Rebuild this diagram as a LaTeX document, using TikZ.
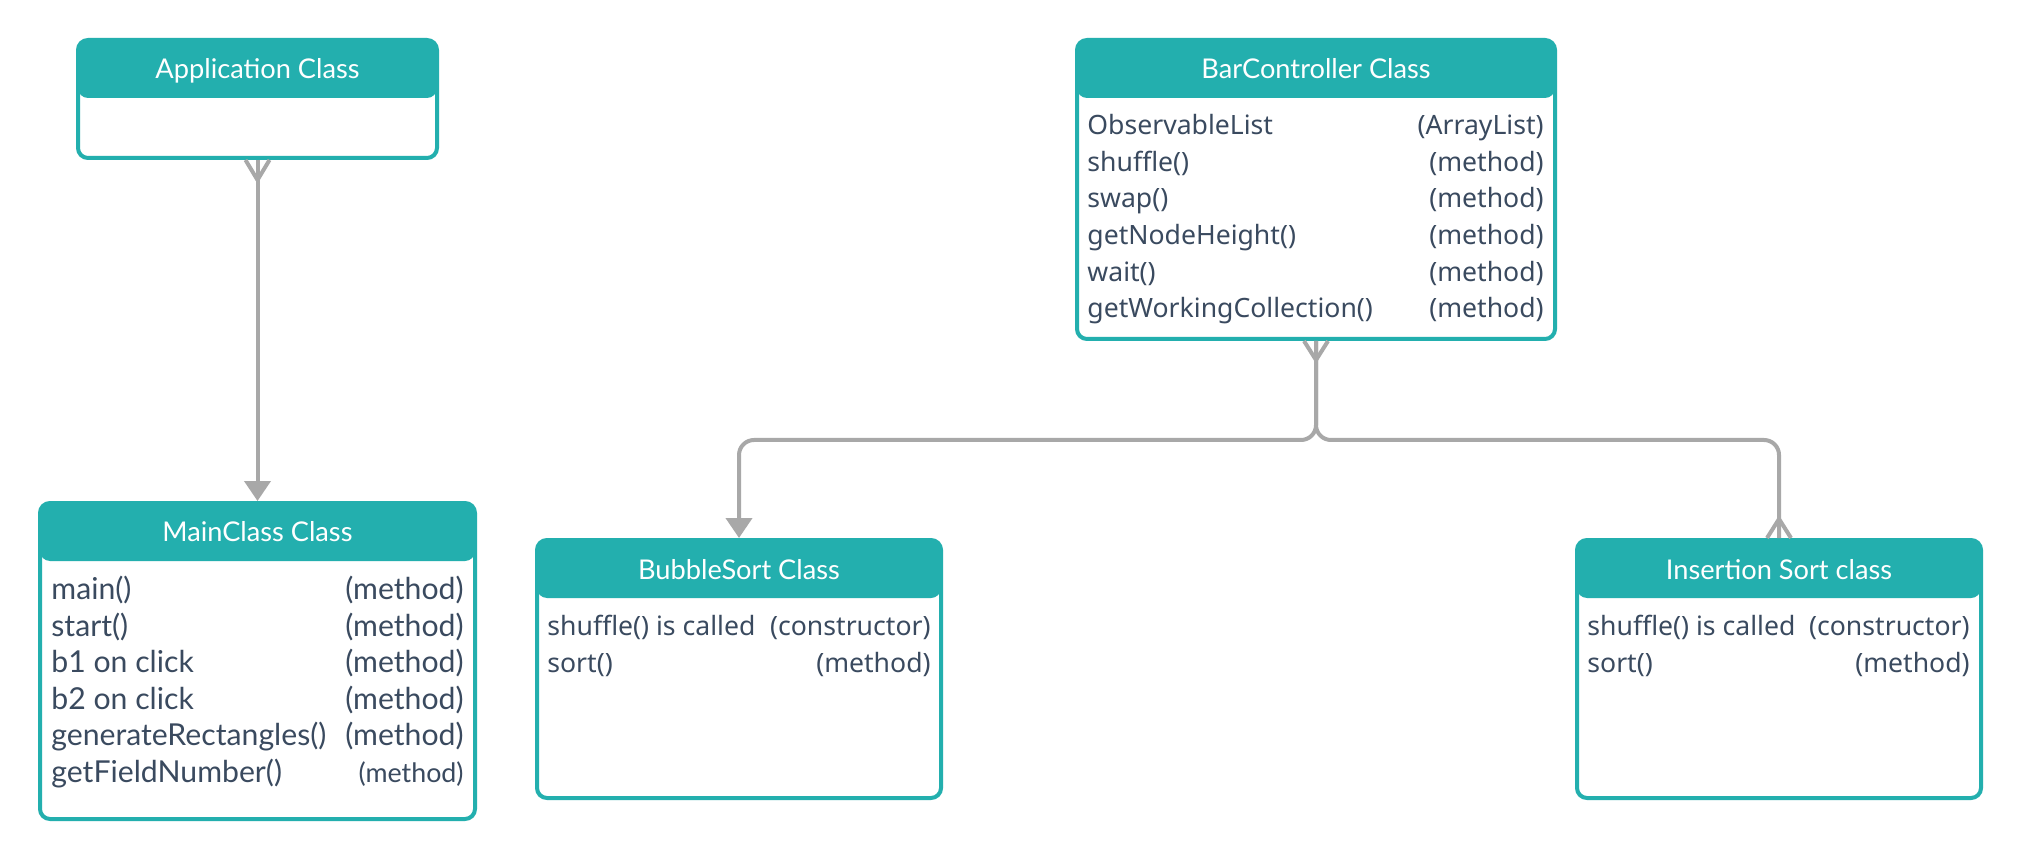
\documentclass[tikz,border=0pt]{standalone}
\usepackage{fontspec}
\setmainfont{Lato}
\newfontfamily\notofont{Noto Sans}
\usetikzlibrary{arrows.meta}
\definecolor{teal1}{HTML}{23AFAE}
\definecolor{txt}{HTML}{3A4A5F}
\definecolor{conn}{HTML}{A8A8A8}
\tikzset{
 classbox/.style={draw=teal1, line width=2pt, rounded corners=5pt, fill=white, inner sep=0pt,
   path picture={\fill[teal1] (path picture bounding box.north west) rectangle ([yshift=-29pt]path picture bounding box.north east);}},
 title/.style={font=\fontsize{13.6}{16}\selectfont, text=white, anchor=base, inner sep=0pt},
 lato/.style={font=\fontsize{15.1}{17}\selectfont, text=txt, inner sep=0pt},
 noto/.style={font=\notofont\fontsize{13.3}{16}\selectfont, text=txt, inner sep=0pt},
 lw/.style={anchor=base west},
 le/.style={anchor=base east},
 connector/.style={draw=conn, line width=2pt},
 tri/.style={-{Triangle[width=13pt,length=10pt]}}
}
\begin{document}
\begin{tikzpicture}[x=0.5pt,y=-0.5pt]
\useasboundingbox[fill=white] (0,0) rectangle (2021,860);
% boxes
\node[classbox, minimum width=179.5pt, minimum height=59pt] (app) at (257.5,99) {};
\node[classbox, minimum width=217.5pt, minimum height=158pt] (main) at (257.5,661) {};
\node[classbox, minimum width=239pt, minimum height=149.5pt] (bar) at (1316,189.5) {};
\node[classbox, minimum width=202pt, minimum height=129pt] (bub) at (739,669) {};
\node[classbox, minimum width=202pt, minimum height=129pt] (ins) at (1779,669) {};
% titles
\node[title] (appt) at (257.5,79) {Application Class};
\node[title] (maint) at (257.5,541) {MainClass Class};
\node[title] (bart) at (1316,79) {BarController Class};
\node[title] (bubt) at (739,579) {BubbleSort Class};
\node[title] (inst) at (1779,579) {Insertion Sort class};
% MainClass rows
\node[lato,lw] (ml1) at (51,599) {main()};
\node[lato,lw] (ml2) at (51,636) {start()};
\node[lato,lw] (ml3) at (51,672) {b1 on click};
\node[lato,lw] (ml4) at (51,709) {b2 on click};
\node[lato,lw] (ml5) at (51,745) {generateRectangles()};
\node[lato,lw] (ml6) at (51,782) {getFieldNumber()};
\node[lato,le] (mr1) at (464,599) {(method)};
\node[lato,le] (mr2) at (464,636) {(method)};
\node[lato,le] (mr3) at (464,672) {(method)};
\node[lato,le] (mr4) at (464,709) {(method)};
\node[lato,le] (mr5) at (464,745) {(method)};
\node[lato,le,font=\fontsize{13.4}{15}\selectfont] (mr6) at (464,782) {(method)};
% BarController rows
\node[noto,lw] (bl1) at (1087,135) {ObservableList};
\node[noto,lw] (bl2) at (1087,172) {shuffle()};
\node[noto,lw] (bl3) at (1087,208) {swap()};
\node[noto,lw] (bl4) at (1087,245) {getNodeHeight()};
\node[noto,lw] (bl5) at (1087,282) {wait()};
\node[noto,lw] (bl6) at (1087,318) {getWorkingCollection()};
\node[noto,le] (br1) at (1544,135) {(ArrayList)};
\node[noto,le] (br2) at (1544,172) {(method)};
\node[noto,le] (br3) at (1544,208) {(method)};
\node[noto,le] (br4) at (1544,245) {(method)};
\node[noto,le] (br5) at (1544,282) {(method)};
\node[noto,le] (br6) at (1544,318) {(method)};
% BubbleSort rows
\node[noto,lw] (ul1) at (547,635) {shuffle() is called};
\node[noto,lw] (ul2) at (547,672) {sort()};
\node[noto,le] (ur1) at (931,635) {(constructor)};
\node[noto,le] (ur2) at (931,672) {(method)};
% Insertion rows
\node[noto,lw] (il1) at (1587,635) {shuffle() is called};
\node[noto,lw] (il2) at (1587,672) {sort()};
\node[noto,le] (ir1) at (1970,635) {(constructor)};
\node[noto,le] (ir2) at (1970,672) {(method)};
% connectors
\draw[connector, tri] (app.south) -- (main.north);
\draw[connector] ([yshift=-10pt]app.south) -- ([xshift=-6pt]app.south)
                 ([yshift=-10pt]app.south) -- ([xshift=6pt]app.south);
\coordinate (jn) at (1316,440);
\draw[connector, tri, rounded corners=7.5pt] (bar.south) -- (jn) -| (bub.north);
\draw[connector, rounded corners=7.5pt] (bar.south) -- (jn) -| (ins.north);
\draw[connector] ([yshift=-9.5pt]bar.south) -- ([xshift=-6pt]bar.south)
                 ([yshift=-9.5pt]bar.south) -- ([xshift=6pt]bar.south);
\draw[connector] ([yshift=9.5pt]ins.north) -- ([xshift=-6pt]ins.north)
                 ([yshift=9.5pt]ins.north) -- ([xshift=6pt]ins.north);
\end{tikzpicture}
\end{document}
